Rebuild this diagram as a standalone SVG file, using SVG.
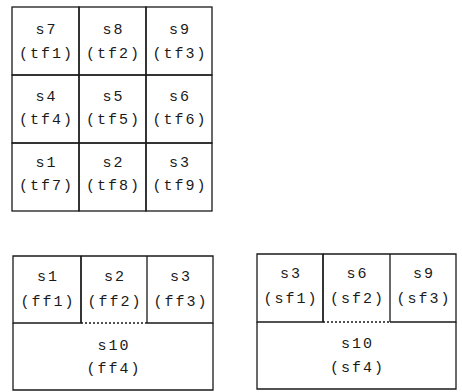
<svg xmlns="http://www.w3.org/2000/svg" width="462" height="392" viewBox="0 0 462 392">
<style>
.b{fill:none;stroke:#1a1a1a;stroke-width:1.3}
.d{fill:none;stroke:#1a1a1a;stroke-width:1.3;stroke-dasharray:2 2}
text{font-family:"Liberation Mono","DejaVu Sans Mono",monospace;font-size:15px;fill:#1a1a1a;text-anchor:middle;letter-spacing:2px}
</style>
<rect width="462" height="392" fill="#fff"/>
<g id="top-grid">
<g id="s7"><rect class="b" x="12" y="7" width="67" height="68"/><text x="46.5" y="34">s7</text><text x="46.5" y="58">(tf1)</text></g>
<g id="s8"><rect class="b" x="79" y="7" width="67" height="68"/><text x="113.5" y="34">s8</text><text x="113.5" y="58">(tf2)</text></g>
<g id="s9"><rect class="b" x="146" y="7" width="66" height="68"/><text x="180" y="34">s9</text><text x="180" y="58">(tf3)</text></g>
<g id="s4"><rect class="b" x="12" y="75" width="67" height="68"/><text x="46.5" y="101">s4</text><text x="46.5" y="124">(tf4)</text></g>
<g id="s5"><rect class="b" x="79" y="75" width="67" height="68"/><text x="113.5" y="101">s5</text><text x="113.5" y="124">(tf5)</text></g>
<g id="s6"><rect class="b" x="146" y="75" width="66" height="68"/><text x="180" y="101">s6</text><text x="180" y="124">(tf6)</text></g>
<g id="s1"><rect class="b" x="12" y="143" width="67" height="68"/><text x="46.5" y="167">s1</text><text x="46.5" y="190">(tf7)</text></g>
<g id="s2"><rect class="b" x="79" y="143" width="67" height="68"/><text x="113.5" y="167">s2</text><text x="113.5" y="190">(tf8)</text></g>
<g id="s3"><rect class="b" x="146" y="143" width="66" height="68"/><text x="180" y="167">s3</text><text x="180" y="190">(tf9)</text></g>
</g>
<g id="bottom-left">
<g id="ff-s1"><path class="b" d="M81,256 H13 V323 H81 Z"/><text x="48" y="281">s1</text><text x="48" y="306">(ff1)</text></g>
<g id="ff-s2"><path class="b" d="M81,256 H147 M81,256 V323 M147,256 V323"/><path class="d" d="M81,323 H147"/><text x="115" y="281">s2</text><text x="115" y="306">(ff2)</text></g>
<g id="ff-s3"><path class="b" d="M147,256 H213 V323 H147"/><text x="181" y="281">s3</text><text x="181" y="306">(ff3)</text></g>
<g id="ff-s10"><path class="b" d="M13,323 V390 H213 V323"/><text x="114" y="350">s10</text><text x="114" y="373">(ff4)</text></g>
</g>
<g id="bottom-right">
<g id="sf-s3"><path class="b" d="M323,254 H257 V322 H323 Z"/><text x="291" y="278">s3</text><text x="291" y="303">(sf1)</text></g>
<g id="sf-s6"><path class="b" d="M323,254 H390 M323,254 V322 M390,254 V322"/><path class="d" d="M323,322 H390"/><text x="357.5" y="278">s6</text><text x="357.5" y="303">(sf2)</text></g>
<g id="sf-s9"><path class="b" d="M390,254 H456 V322 H390"/><text x="424" y="278">s9</text><text x="424" y="303">(sf3)</text></g>
<g id="sf-s10"><path class="b" d="M257,322 V389 H456 V322"/><text x="357.5" y="348">s10</text><text x="357.5" y="372">(sf4)</text></g>
</g>
<g id="connectors"/>
</svg>
